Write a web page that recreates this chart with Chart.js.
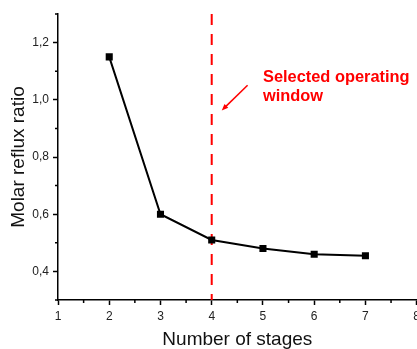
<!DOCTYPE html>
<html>
<head>
<meta charset="utf-8">
<script src="https://cdn.jsdelivr.net/npm/chart.js@4.4.1/dist/chart.umd.min.js"></script>
<style>
  html, body { margin: 0; padding: 0; background: #fff; overflow: hidden; }
  #wrap { width: 417px; height: 349px; overflow: hidden; }
</style>
</head>
<body>
<div id="wrap"><canvas id="c" width="424" height="349"></canvas></div>
<script>
const stages = [2, 3, 4, 5, 6, 7];
const refluxRatio = [1.15, 0.6, 0.51, 0.48, 0.46, 0.455];
const xTicks = [1, 2, 3, 4, 5, 6, 7, 8];
const yTicks = [0.4, 0.6, 0.8, 1.0, 1.2];
const xMinorTicks = [1.5, 2.5, 3.5, 4.5, 5.5, 6.5, 7.5];
const yMinorTicks = [0.3, 0.5, 0.7, 0.9, 1.1, 1.3];
const selectedStage = 4;
const noteLines = ["Selected operating", "window"];
const noteX = 5;
const noteY = [1.061, 0.995];
const arrowFrom = [4.7, 1.051];
const arrowTo = [4.196, 0.963];

const FONT = "'Liberation Sans', Arial, sans-serif";

// dashed marker line at the chosen stage count, under the data
const stageLine = {
  id: "stageLine",
  beforeDatasetsDraw(chart) {
    const { ctx, chartArea, scales } = chart;
    const x = scales.x.getPixelForValue(selectedStage);
    ctx.save();
    ctx.strokeStyle = "#ff0000";
    ctx.lineWidth = 2;
    ctx.setLineDash([11, 9]);
    ctx.beginPath();
    ctx.moveTo(x, chartArea.top);
    ctx.lineTo(x, chartArea.bottom);
    ctx.stroke();
    ctx.restore();
  },
};

// minor ticks + red note with arrow
const extras = {
  id: "extras",
  afterDraw(chart) {
    const { ctx, chartArea, scales } = chart;
    ctx.save();
    ctx.strokeStyle = "#000";
    ctx.lineWidth = 1.5;
    ctx.beginPath();
    xMinorTicks.forEach((v) => {
      const x = scales.x.getPixelForValue(v);
      ctx.moveTo(x, chartArea.bottom);
      ctx.lineTo(x, chartArea.bottom + 3);
    });
    yMinorTicks.forEach((v) => {
      const y = scales.y.getPixelForValue(v);
      ctx.moveTo(chartArea.left, y);
      ctx.lineTo(chartArea.left - 3, y);
    });
    ctx.stroke();

    ctx.fillStyle = "#ff0000";
    ctx.font = "bold 16.4px " + FONT;
    ctx.textAlign = "left";
    ctx.textBaseline = "alphabetic";
    noteLines.forEach((t, i) => {
      ctx.fillText(t, scales.x.getPixelForValue(noteX), scales.y.getPixelForValue(noteY[i]));
    });

    const x1 = scales.x.getPixelForValue(arrowFrom[0]);
    const y1 = scales.y.getPixelForValue(arrowFrom[1]);
    const x2 = scales.x.getPixelForValue(arrowTo[0]);
    const y2 = scales.y.getPixelForValue(arrowTo[1]);
    const ang = Math.atan2(y2 - y1, x2 - x1);
    ctx.strokeStyle = "#ff0000";
    ctx.lineWidth = 1.5;
    ctx.beginPath();
    ctx.moveTo(x1, y1);
    ctx.lineTo(x2 - 4 * Math.cos(ang), y2 - 4 * Math.sin(ang));
    ctx.stroke();
    ctx.beginPath();
    ctx.moveTo(x2, y2);
    ctx.lineTo(x2 - 7 * Math.cos(ang - 0.4), y2 - 7 * Math.sin(ang - 0.4));
    ctx.lineTo(x2 - 7 * Math.cos(ang + 0.4), y2 - 7 * Math.sin(ang + 0.4));
    ctx.closePath();
    ctx.fill();
    ctx.restore();
  },
};

new Chart(document.getElementById("c"), {
  type: "line",
  data: {
    datasets: [
      {
        data: stages.map((s, i) => ({ x: s, y: refluxRatio[i] })),
        borderColor: "#000",
        backgroundColor: "#000",
        borderWidth: 2,
        tension: 0,
        pointStyle: "rect",
        pointRadius: 5,
        pointBorderWidth: 0,
        fill: false,
      },
    ],
  },
  options: {
    responsive: false,
    animation: false,
    events: [],
    layout: { padding: { top: 14, right: 1, left: 0, bottom: 0 } },
    plugins: { legend: { display: false }, tooltip: { enabled: false } },
    scales: {
      x: {
        type: "linear",
        min: 1,
        max: 8,
        afterBuildTicks: (s) => { s.ticks = xTicks.map((v) => ({ value: v })); },
        afterFit: (s) => { s.height = 49; },
        border: { display: true, color: "#000", width: 1.5 },
        grid: { drawOnChartArea: false, drawTicks: true, tickLength: 5, tickColor: "#000", tickWidth: 1.5 },
        ticks: { color: "#222", padding: 4, maxRotation: 0, font: { family: FONT, size: 12 } },
        title: {
          display: true,
          text: "Number of stages",
          color: "#111",
          padding: 0,
          font: { family: FONT, size: 19, lineHeight: 1 },
        },
      },
      y: {
        type: "linear",
        min: 0.3,
        max: 1.3,
        afterBuildTicks: (s) => { s.ticks = yTicks.map((v) => ({ value: v })); },
        afterFit: (s) => { s.width = 58; s.paddingTop = 0; s.paddingBottom = 0; },
        border: { display: true, color: "#000", width: 1.5 },
        grid: { drawOnChartArea: false, drawTicks: true, tickLength: 5, tickColor: "#000", tickWidth: 1.5 },
        ticks: {
          color: "#222",
          padding: 4,
          font: { family: FONT, size: 12 },
          callback: (v) => v.toFixed(1).replace(".", ","),
        },
        title: {
          display: true,
          text: "Molar reflux ratio",
          color: "#111",
          padding: { top: 9, bottom: 0 },
          font: { family: FONT, size: 19, lineHeight: 1 },
        },
      },
    },
  },
  plugins: [stageLine, extras],
});
</script>
</body>
</html>
